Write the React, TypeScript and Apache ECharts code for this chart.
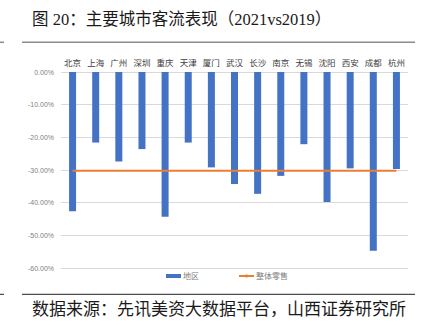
import React, { useEffect, useRef } from "react";
import * as echarts from "echarts";

const categories = ["北京", "上海", "广州", "深圳", "重庆", "天津", "厦门", "武汉", "长沙", "南京", "无锡", "沈阳", "西安", "成都", "杭州"];
const regionValues = [-42.6, -21.6, -27.4, -23.6, -44.3, -21.6, -29.2, -34.3, -37.3, -31.8, -22.1, -39.8, -29.5, -54.7, -29.7];
const overallRetail = [-30.2, -30.2, -30.2, -30.2, -30.2, -30.2, -30.2, -30.2, -30.2, -30.2, -30.2, -30.2, -30.2, -30.2, -30.2];
const titleText = "图 20：主要城市客流表现（2021vs2019）";
const sourceText = "数据来源：先讯美资大数据平台，山西证券研究所";

export default function App() {
  const ref = useRef<HTMLDivElement>(null);
  useEffect(() => {
    if (!ref.current) return;
    const chart = echarts.init(ref.current, null, { renderer: "svg" });
    chart.setOption({
      animation: false,
      backgroundColor: "#ffffff",
      grid: { left: 61, right: 20, top: 72, bottom: 60, containLabel: false },
      xAxis: {
        type: "category",
        position: "top",
        data: categories,
        axisLine: { show: false },
        axisTick: { show: false },
        axisLabel: { interval: 0, fontSize: 8.5, color: "#404040", margin: 6, fontFamily: "Noto Sans CJK SC" },
      },
      yAxis: {
        type: "value",
        min: -60,
        max: 0,
        interval: 10,
        axisLine: { show: false },
        axisTick: { show: false },
        splitLine: { lineStyle: { color: "#d9d9d9", width: 1 } },
        axisLabel: {
          fontSize: 7,
          color: "#7f7f7f",
          margin: 7,
          fontFamily: "Liberation Sans",
          formatter: (v: number) => v.toFixed(2) + "%",
        },
      },
      legend: {
        left: 166,
        top: 272,
        padding: 0,
        itemGap: 39,
        itemWidth: 15,
        itemHeight: 4,
        textStyle: { fontSize: 8, color: "#7f7f7f", fontFamily: "Noto Sans CJK SC", padding: [0, 0, 0, -3] },
        data: [{ name: "地区", icon: "rect" }, { name: "整体零售" }],
      },
      series: [
        {
          name: "地区",
          type: "bar",
          data: regionValues,
          barWidth: 7,
          itemStyle: { color: "#4472c4" },
        },
        {
          name: "整体零售",
          type: "line",
          data: overallRetail,
          symbol: "none",
          showSymbol: false,
          lineStyle: { color: "#ed7d31", width: 2 },
          itemStyle: { color: "#ed7d31" },
          z: 5,
        },
      ],
      graphic: [
        {
          type: "text",
          left: 32,
          top: 11,
          style: {
            text: titleText,
            fontSize: 16.5,
            fill: "#1a1a1a",
            fontFamily: "Liberation Serif, Noto Sans CJK SC",
          },
        },
        { type: "line", shape: { x1: 22, y1: 42.3, x2: 415, y2: 42.3 }, style: { stroke: "#8c8c8c", lineWidth: 1.5 } },
        { type: "line", shape: { x1: 0, y1: 42.3, x2: 4, y2: 42.3 }, style: { stroke: "#8c8c8c", lineWidth: 1.5 } },
        { type: "line", shape: { x1: 22, y1: 294.3, x2: 415, y2: 294.3 }, style: { stroke: "#222222", lineWidth: 1 } },
        { type: "line", shape: { x1: 0, y1: 294.3, x2: 4, y2: 294.3 }, style: { stroke: "#222222", lineWidth: 1 } },
        {
          type: "text",
          left: 32,
          top: 299,
          style: {
            text: sourceText,
            fontSize: 17,
            fill: "#1a1a1a",
            fontFamily: "Noto Sans CJK SC",
          },
        },
      ],
    });
    return () => chart.dispose();
  }, []);
  return <div ref={ref} style={{ position: "fixed", left: 0, top: 0, width: 428, height: 328 }} />;
}
